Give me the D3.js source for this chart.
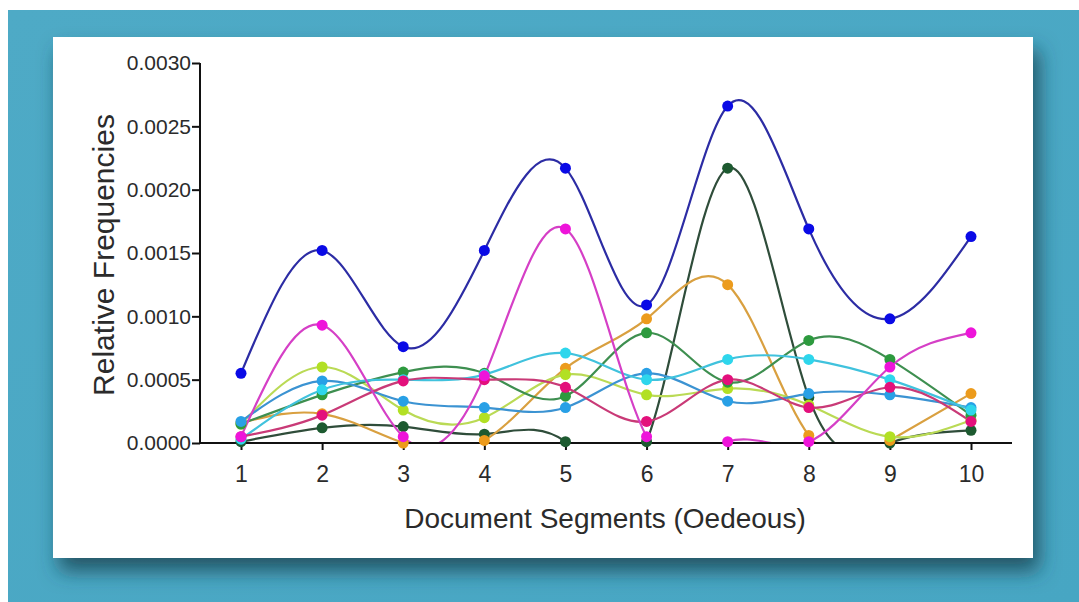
<!DOCTYPE html>
<html lang="en">
<head>
  <script src="https://d3js.org/d3.v7.min.js"></script>
  <style>
    body {
      margin: 0;
      background: #fff;
      font-family: "Liberation Sans", Arial, sans-serif;
    }
    .tick text {
      fill: #2b2b2b;
    }
  </style>
</head>
<body>
<div id="chart"></div>
<script>
  var segments = [1, 2, 3, 4, 5, 6, 7, 8, 9, 10];
  var yTicks = [0, 0.0005, 0.001, 0.0015, 0.002, 0.0025, 0.003];

  var blue      = [0.00055, 0.00152, 0.00076, 0.00152, 0.00217, 0.00109, 0.00266, 0.00169, 0.00098, 0.00163];
  var magenta   = [0.00005, 0.00093, 0.00005, 0.00053, 0.00169, 0.00005, 0.00001, 0.00001, 0.00060, 0.00087];
  var crimson   = [0.00005, 0.00022, 0.00049, 0.00050, 0.00044, 0.00017, 0.00050, 0.00028, 0.00044, 0.00017];
  var darkGreen = [0.00001, 0.00012, 0.00013, 0.00007, 0.00001, 0.00001, 0.00217, 0.00036, 0.00000, 0.00010];
  var green     = [0.00015, 0.00038, 0.00056, 0.00055, 0.00037, 0.00087, 0.00048, 0.00081, 0.00066, 0.00022];
  var orange    = [0.00016, 0.00023, 0.00000, 0.00002, 0.00059, 0.00098, 0.00125, 0.00006, 0.00002, 0.00039];
  var lime      = [0.00015, 0.00060, 0.00026, 0.00020, 0.00054, 0.00038, 0.00043, 0.00030, 0.00005, 0.00018];
  var skyBlue   = [0.00017, 0.00049, 0.00033, 0.00028, 0.00028, 0.00055, 0.00033, 0.00039, 0.00038, 0.00028];
  var cyan      = [0.00003, 0.00042, 0.00050, 0.00054, 0.00071, 0.00050, 0.00066, 0.00066, 0.00050, 0.00026];

  // drawn bottom to top
  var series = [
    {values: darkGreen, line: "#2f4d3a", dot: "#1d5a30"},
    {values: orange,    line: "#d9a040", dot: "#ec9b1c"},
    {values: lime,      line: "#bada55", dot: "#b2e024"},
    {values: green,     line: "#3e8f50", dot: "#2d9a3e"},
    {values: skyBlue,   line: "#3b93d2", dot: "#28a0e6"},
    {values: cyan,      line: "#40c2dd", dot: "#2ed6ec"},
    {values: crimson,   line: "#c93a77", dot: "#e3107c"},
    {values: magenta,   line: "#d53fc6", dot: "#ee14da"},
    {values: blue,      line: "#2c2ca4", dot: "#0a0ae6"}
  ];

  var W = 1079, H = 602;
  var plot = {left: 200, right: 1012, top: 63, bottom: 443};

  var svg = d3.select("#chart").append("svg")
          .attr("width", W)
          .attr("height", H);

  var defs = svg.append("defs");
  var bg = defs.append("linearGradient").attr("id", "bg")
          .attr("x1", 0).attr("y1", 0).attr("x2", 1).attr("y2", 1);
  bg.append("stop").attr("offset", "0%").attr("stop-color", "#4eaac6");
  bg.append("stop").attr("offset", "100%").attr("stop-color", "#47a6c3");

  var shadow = defs.append("filter").attr("id", "shadow")
          .attr("x", "-10%").attr("y", "-10%").attr("width", "125%").attr("height", "130%");
  shadow.append("feDropShadow")
          .attr("dx", 6).attr("dy", 13).attr("stdDeviation", 10)
          .attr("flood-color", "#1b4250").attr("flood-opacity", 0.8);

  defs.append("clipPath").attr("id", "clip")
          .append("rect")
          .attr("x", plot.left).attr("y", plot.top - 20)
          .attr("width", plot.right - plot.left).attr("height", plot.bottom - plot.top + 20);

  svg.append("rect").attr("x", 8).attr("y", 10)
          .attr("width", W - 8).attr("height", H - 10)
          .attr("fill", "url(#bg)");

  svg.append("rect").attr("x", 53).attr("y", 37)
          .attr("width", 980).attr("height", 521)
          .attr("fill", "#fff")
          .attr("filter", "url(#shadow)");

  var x = d3.scaleLinear().domain([1, 10]).range([241, 971]);
  var y = d3.scaleLinear().domain([0, 0.003]).range([plot.bottom, plot.top]);

  var line = d3.line()
          .x(function(d, i) { return x(segments[i]); })
          .y(function(d) { return y(d); })
          .curve(d3.curveNatural);

  var lines = svg.append("g").attr("clip-path", "url(#clip)");
  series.forEach(function(s) {
    lines.append("path")
            .attr("d", line(s.values))
            .attr("fill", "none")
            .attr("stroke", s.line)
            .attr("stroke-width", 2.2);
  });

  // axes
  var yAxis = d3.axisLeft(y).tickValues(yTicks).tickSize(8).tickPadding(1)
          .tickFormat(d3.format(".4f"));
  var gY = svg.append("g")
          .attr("transform", "translate(" + plot.left + ",0)")
          .call(yAxis);
  gY.select(".domain").remove();
  gY.append("line").attr("x1", 0).attr("x2", 0)
          .attr("y1", plot.top).attr("y2", plot.bottom + 1)
          .attr("stroke", "#111").attr("stroke-width", 2);
  gY.selectAll(".tick line").attr("stroke", "#111").attr("stroke-width", 2);
  gY.selectAll(".tick text").style("font-size", "21px")
          .style("font-family", "'Liberation Sans', Arial, sans-serif");

  var xAxis = d3.axisBottom(x).tickValues(segments).tickSize(7).tickPadding(16)
          .tickFormat(d3.format("d"));
  var gX = svg.append("g")
          .attr("transform", "translate(0," + plot.bottom + ")")
          .call(xAxis);
  gX.select(".domain").remove();
  gX.append("line").attr("x1", plot.left - 1).attr("x2", plot.right)
          .attr("y1", 0).attr("y2", 0)
          .attr("stroke", "#111").attr("stroke-width", 2);
  gX.selectAll(".tick line").attr("stroke", "#111").attr("stroke-width", 2);
  gX.selectAll(".tick text").style("font-size", "23px")
          .style("font-family", "'Liberation Sans', Arial, sans-serif");

  var dots = svg.append("g");
  series.forEach(function(s) {
    dots.selectAll(null)
            .data(s.values)
            .enter().append("circle")
            .attr("cx", function(d, i) { return x(segments[i]); })
            .attr("cy", function(d) { return y(d); })
            .attr("r", 5.5)
            .attr("fill", s.dot);
  });

  svg.append("text")
          .attr("x", 605).attr("y", 528)
          .attr("text-anchor", "middle")
          .style("font-size", "28px")
          .attr("fill", "#2b2b2b")
          .text("Document Segments (Oedeous)");

  svg.append("text")
          .attr("transform", "translate(114,255) rotate(-90)")
          .attr("text-anchor", "middle")
          .style("font-size", "30px")
          .attr("fill", "#2b2b2b")
          .text("Relative Frequencies");
</script>
</body>
</html>
